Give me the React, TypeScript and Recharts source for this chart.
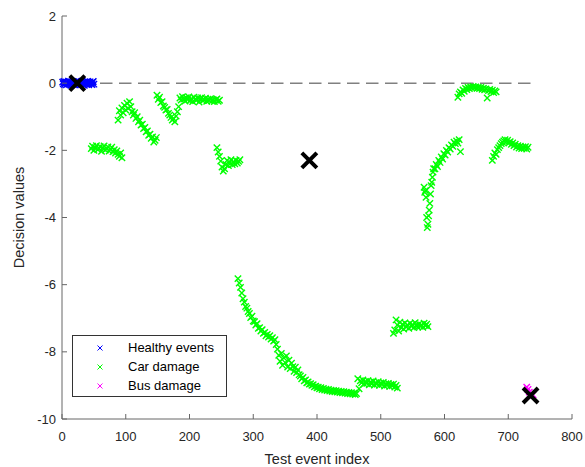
import { ScatterChart, Scatter, XAxis, YAxis, ReferenceLine } from 'recharts';

const xTicks = [0, 100, 200, 300, 400, 500, 600, 700, 800];
const yTicks = [-10, -8, -6, -4, -2, 0, 2];

// healthy events: index 1..50
const healthyVals = [
  0.03, -0.02, 0.05, -0.04, 0.01, 0.04, -0.05, 0.02, -0.01, 0.06, -0.03, 0.02, 0.04, -0.06, 0.01, -0.02, 0.05,
  -0.04, 0.03, 0.0, -0.05, 0.02, 0.06, -0.03, 0.01, -0.01, 0.04, -0.05, 0.03, -0.02, 0.05, 0.01, -0.04, 0.02,
  -0.06, 0.04, -0.01, 0.03, -0.03, 0.05, 0.0, -0.05, 0.02, 0.04, -0.02, 0.01, -0.04, 0.03, 0.05, -0.03,
];

// car damage, read in pieces (first index and step given where they are used)
const carA = [-1.95, -1.88, -2.0, -1.92, -1.86, -1.98, -1.94, -1.89, -2.03, -1.93, -1.87, -1.99, -1.95, -1.9, -2.02, -1.96, -1.91, -2.04, -1.98, -2.08, -2.02, -2.12, -2.18, -2.08, -2.22];
const carB = [
  -1.1, -0.82, -0.95, -0.74, -0.88, -0.66, -0.8, -0.6, -0.75, -0.55, -0.7, -0.85, -0.95, -0.88, -1.05, -1.0,
  -1.15, -1.1, -1.25, -1.22, -1.35, -1.32, -1.45, -1.42, -1.55, -1.52, -1.64, -1.6, -1.75, -1.7, -1.62,
];
const carC = [-0.36, -0.48, -0.42, -0.58, -0.55, -0.68, -0.72, -0.8, -0.78, -0.9, -0.95, -1.02, -1.1, -1.05, -1.15, -0.98, -0.85, -0.7];
const carD = [
  -0.44, -0.5, -0.4, -0.47, -0.53, -0.43, -0.49, -0.41, -0.52, -0.46, -0.55, -0.42, -0.48, -0.51, -0.44, -0.56,
  -0.47, -0.43, -0.52, -0.49, -0.45, -0.54, -0.48, -0.51, -0.46, -0.53, -0.49, -0.55, -0.5, -0.47, -0.54, -0.51,
];
const carE = [-1.92, -2.05, -2.18, -2.32, -2.5, -2.62, -2.55, -2.42, -2.3, -2.45, -2.36, -2.28, -2.42, -2.34, -2.4, -2.3, -2.38, -2.33, -2.28];
const carF = [
  -5.82, -5.95, -6.08, -6.25, -6.42, -6.52, -6.65, -6.7, -6.8, -6.86, -6.98, -6.94, -7.08, -7.1, -7.2, -7.16,
  -7.3, -7.28, -7.38, -7.34, -7.45, -7.42, -7.52, -7.48, -7.56, -7.52, -7.62, -7.58, -7.68, -7.64, -7.78, -7.92,
  -8.1, -8.28, -8.05, -8.4, -8.18, -8.32, -8.12, -8.45, -8.25, -8.5, -8.34, -8.44, -8.58, -8.46, -8.62, -8.54,
  -8.68, -8.72, -8.8, -8.76, -8.86, -8.84, -8.92, -8.9, -8.96, -8.95, -9.0, -8.98, -9.04, -9.02, -9.07, -9.05,
  -9.1, -9.07, -9.12, -9.09, -9.14, -9.11, -9.15, -9.12, -9.17, -9.14, -9.18, -9.15, -9.19, -9.16, -9.2, -9.17,
  -9.21, -9.18, -9.22, -9.19, -9.23, -9.2, -9.24, -9.21, -9.25, -9.22, -9.26, -9.23, -9.27, -9.24,
];
const carG = [
  -8.8, -9.1, -8.86, -8.92, -8.84, -8.96, -8.88, -8.94, -8.86, -8.98, -8.9, -8.95, -8.87, -8.99, -8.92, -8.96,
  -8.89, -9.0, -8.93, -8.97, -8.91, -9.02, -8.95, -8.99, -8.94, -9.03, -8.97, -9.01, -8.96, -9.05, -9.0, -9.08,
];
const carH = [
  -7.45, -7.35, -7.05, -7.2, -7.38, -7.12, -7.28, -7.18, -7.32, -7.14, -7.26, -7.2, -7.3, -7.15, -7.24, -7.19,
  -7.28, -7.13, -7.22, -7.26, -7.17, -7.24, -7.2, -7.27, -7.15, -7.22, -7.18, -7.25,
];
const carI1 = [-3.1, -3.25, -3.2, -3.4, -4.0, -4.3, -4.2, -3.95, -3.78, -3.58, -3.3, -3.05, -2.95, -2.8, -2.65, -2.55];
const carI2 = [-2.55, -2.42, -2.48, -2.3, -2.36, -2.2, -2.26, -2.1, -2.14, -2.0, -2.05, -1.92, -1.96, -1.84, -1.88, -1.76, -1.8, -1.72, -1.78, -1.68, -2.04];
const carJ = [
  -0.42, -0.32, -0.26, -0.3, -0.2, -0.24, -0.16, -0.19, -0.13, -0.16, -0.11, -0.14, -0.1, -0.13, -0.11, -0.15,
  -0.12, -0.16, -0.13, -0.18, -0.15, -0.2, -0.17, -0.44, -0.22, -0.19, -0.25, -0.21, -0.28, -0.23, -0.26,
];
const carK = [
  -2.3, -2.18, -2.08, -2.12, -1.98, -1.92, -1.86, -1.8, -1.76, -1.72, -1.68, -1.74, -1.7, -1.78, -1.74, -1.82,
  -1.78, -1.86, -1.82, -1.9, -1.86, -1.93, -1.88, -1.95, -1.9, -1.94, -1.89, -1.96, -1.91,
];

// bus damage: index 729..739, every 2nd
const busVals = [-9.05, -9.12, -9.2, -9.25, -9.3, -9.28];

// class centres (big black crosses)
const centreIdx = [24, 388, 735];
const centreVal = [0.0, -2.3, -9.3];

const pts = (start: number, step: number, vals: number[]) => vals.map((y, i) => ({ x: start + i * step, y }));

const healthy = pts(1, 1, healthyVals);
const car = [
  ...pts(46, 2, carA),
  ...pts(88, 2, carB),
  ...pts(149, 2, carC),
  ...pts(185, 2, carD),
  ...pts(243, 2, carE),
  ...pts(276, 2, carF),
  ...pts(464, 2, carG),
  ...pts(520, 2, carH),
  ...pts(568, 1, carI1),
  ...pts(585, 2, carI2),
  ...pts(621, 2, carJ),
  ...pts(675, 2, carK),
];
const bus = pts(729, 2, busVals);
const centres = centreIdx.map((x, i) => ({ x, y: centreVal[i] }));

const font = '"Liberation Sans", Arial, Helvetica, sans-serif';
const axisColor = '#666';
const textColor = '#262626';

const cross = (color: string, r: number, w: number) => (p: any) => (
  <path
    d={`M${p.cx - r},${p.cy - r}L${p.cx + r},${p.cy + r}M${p.cx - r},${p.cy + r}L${p.cx + r},${p.cy - r}`}
    stroke={color}
    strokeWidth={w}
    fill="none"
  />
);

const YTick = (props: any) => {
  const { x, y, payload } = props;
  return (
    <g>
      <line x1={x} y1={y} x2={x + 5} y2={y} stroke={axisColor} />
      <text x={x - 6} y={y} dy={4.5} textAnchor="end" fontSize={13} fill={textColor} fontFamily={font}>
        {payload.value}
      </text>
    </g>
  );
};

const XTick = (props: any) => {
  const { x, y, payload } = props;
  return (
    <g>
      <line x1={x} y1={y} x2={x} y2={y - 5} stroke={axisColor} />
      <text x={x} y={y + 22} textAnchor="middle" fontSize={13} fill={textColor} fontFamily={font}>
        {payload.value}
      </text>
    </g>
  );
};

const legendItems = [
  { name: 'Healthy events', color: '#0000ff' },
  { name: 'Car damage', color: '#00ff00' },
  { name: 'Bus damage', color: '#ff00ff' },
];

export default function App() {
  return (
    <div style={{ position: 'absolute', left: 0, top: 0, width: 585, height: 467, background: '#fff', fontFamily: font }}>
      <ScatterChart width={585} height={467} margin={{ top: 16, right: 13, left: 0, bottom: 0 }}>
        <XAxis
          type="number"
          dataKey="x"
          domain={[0, 800]}
          ticks={xTicks}
          interval={0}
          height={48}
          tickSize={0}
          tickMargin={0}
          tickLine={false}
          axisLine={{ stroke: axisColor }}
          tick={<XTick />}
          label={{
            content: (p: any) => (
              <text
                x={p.viewBox.x + p.viewBox.width / 2}
                y={p.viewBox.y + 45}
                textAnchor="middle"
                fontSize={14.5}
                fill={textColor}
                fontFamily={font}
              >
                Test event index
              </text>
            ),
          }}
        />
        <YAxis
          type="number"
          dataKey="y"
          domain={[-10, 2]}
          ticks={yTicks}
          interval={0}
          width={62}
          tickSize={0}
          tickMargin={0}
          tickLine={false}
          axisLine={{ stroke: axisColor }}
          tick={<YTick />}
          label={{
            content: (p: any) => {
              const cx = 24;
              const cy = p.viewBox.y + p.viewBox.height / 2;
              return (
                <text
                  x={cx}
                  y={cy}
                  textAnchor="middle"
                  fontSize={14.5}
                  fill={textColor}
                  fontFamily={font}
                  transform={`rotate(-90, ${cx}, ${cy})`}
                >
                  Decision values
                </text>
              );
            },
          }}
        />
        <ReferenceLine
          segment={[{ x: 0, y: 0 }, { x: 740, y: 0 }]}
          stroke="#808080"
          strokeWidth={1.5}
          strokeDasharray="12.5 6.5"
        />
        <Scatter name="Healthy events" data={healthy} shape={cross('#0000ff', 3.2, 1.4)} isAnimationActive={false} />
        <Scatter name="Car damage" data={car} shape={cross('#00ff00', 3.2, 1.4)} isAnimationActive={false} />
        <Scatter name="Bus damage" data={bus} shape={cross('#ff00ff', 3.2, 1.4)} isAnimationActive={false} />
        <Scatter name="Centres" data={centres} shape={cross('#000000', 7.5, 4)} isAnimationActive={false} legendType="none" />
      </ScatterChart>
      <div
        style={{
          position: 'absolute',
          left: 72,
          top: 335,
          width: 155,
          height: 62,
          boxSizing: 'border-box',
          border: '1px solid #333',
          background: '#fff',
        }}
      >
        {legendItems.map((it, i) => (
          <div
            key={it.name}
            style={{ position: 'absolute', left: 0, top: 2 + 19 * i, height: 19, width: 153, lineHeight: '19px' }}
          >
            <svg width={10} height={10} style={{ position: 'absolute', left: 22, top: 4.5 }}>
              <path d="M2.5,2.5L7.5,7.5M2.5,7.5L7.5,2.5" stroke={it.color} strokeWidth={1} fill="none" />
            </svg>
            <span style={{ position: 'absolute', left: 55, top: 0, fontSize: 13, color: '#000', whiteSpace: 'nowrap' }}>
              {it.name}
            </span>
          </div>
        ))}
      </div>
    </div>
  );
}
